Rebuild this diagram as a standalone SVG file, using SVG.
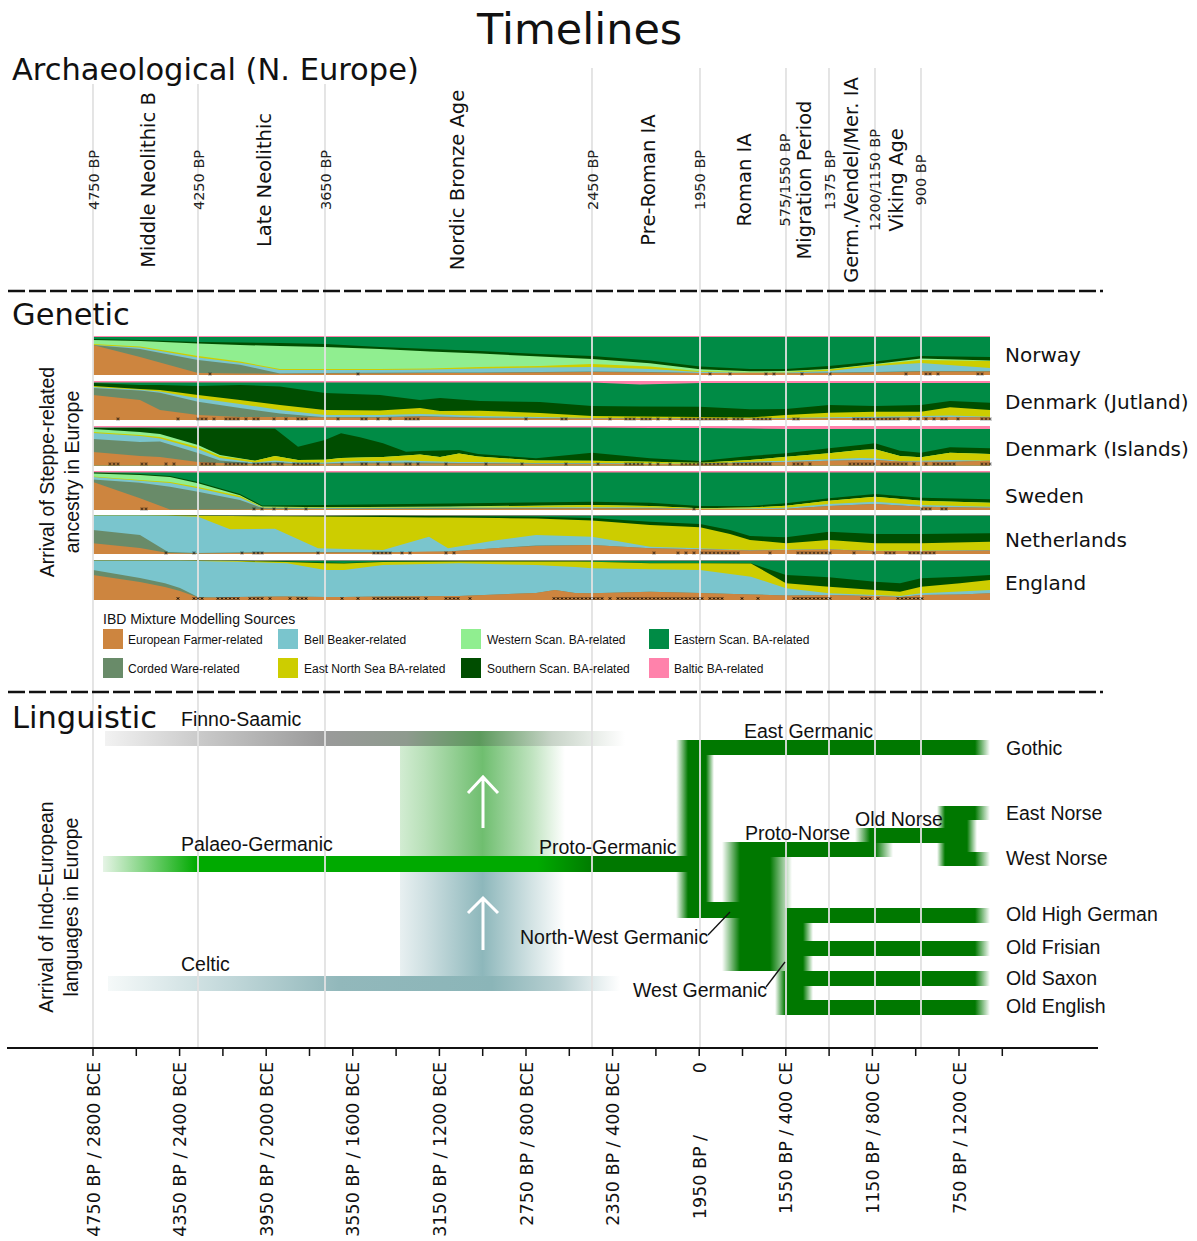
<svg xmlns="http://www.w3.org/2000/svg" width="1197" height="1241" viewBox="0 0 1197 1241">
<defs>
<style>
.P{fill:#FF82AB}.E{fill:#008B45}.S{fill:#004D00}.W{fill:#90EE90}.Y{fill:#CDCD00}.B{fill:#7AC5CD}.C{fill:#698B69}.F{fill:#CD853F}
.grid line{stroke:#e2e2e2;stroke-width:1.8}
.dash{stroke:#111;stroke-width:2.5;stroke-dasharray:17 4}
.dv{font-family:"DejaVu Sans",Verdana,sans-serif;fill:#111}
.ls{font-family:"Liberation Sans",Arial,sans-serif;fill:#111}
.tg{fill:#007800}
.fl{fill:url(#gL)}.fr{fill:url(#gR)}
.sm{font-size:14.5px;fill:#222}.bg{font-size:19.5px}
.lab{font-size:19.5px}
.leg{font-size:12px}
.ax{font-size:17.5px}
</style>
<linearGradient id="gL" x1="0" x2="1" y1="0" y2="0"><stop offset="0" stop-color="#007800" stop-opacity="0"/><stop offset="1" stop-color="#007800"/></linearGradient>
<linearGradient id="gR" x1="0" x2="1" y1="0" y2="0"><stop offset="0" stop-color="#007800"/><stop offset="1" stop-color="#007800" stop-opacity="0"/></linearGradient>
<linearGradient id="gFinno" gradientUnits="userSpaceOnUse" x1="105" x2="625" y1="0" y2="0">
<stop offset="0" stop-color="#f2f2f2"/><stop offset="0.2" stop-color="#c6c6c6"/><stop offset="0.42" stop-color="#9a9a9a"/><stop offset="0.58" stop-color="#8e9a8e"/><stop offset="0.72" stop-color="#5c9a5c"/><stop offset="0.86" stop-color="#c8d4c8"/><stop offset="1" stop-color="#ffffff"/>
</linearGradient>
<linearGradient id="gBandG" gradientUnits="userSpaceOnUse" x1="400" x2="565" y1="0" y2="0">
<stop offset="0" stop-color="#d2ecd2"/><stop offset="0.15" stop-color="#b8e0b8"/><stop offset="0.5" stop-color="#6fbe6f"/><stop offset="0.8" stop-color="#bfe3bf"/><stop offset="1" stop-color="#ffffff"/>
</linearGradient>
<linearGradient id="gBandB" gradientUnits="userSpaceOnUse" x1="400" x2="565" y1="0" y2="0">
<stop offset="0" stop-color="#e8f0f1"/><stop offset="0.15" stop-color="#cfe0e2"/><stop offset="0.5" stop-color="#8db7bb"/><stop offset="0.8" stop-color="#d3e3e4"/><stop offset="1" stop-color="#ffffff"/>
</linearGradient>
<linearGradient id="gCelt" gradientUnits="userSpaceOnUse" x1="108" x2="620" y1="0" y2="0">
<stop offset="0" stop-color="#f5f9f9"/><stop offset="0.25" stop-color="#bfd6d8"/><stop offset="0.45" stop-color="#92b8bb"/><stop offset="0.75" stop-color="#8bb5b8"/><stop offset="0.88" stop-color="#b8d0d2"/><stop offset="1" stop-color="#ffffff"/>
</linearGradient>
<linearGradient id="gPal" gradientUnits="userSpaceOnUse" x1="103" x2="690" y1="0" y2="0">
<stop offset="0" stop-color="#e6f4e6"/><stop offset="0.16" stop-color="#00aa00"/><stop offset="0.74" stop-color="#00aa00"/><stop offset="0.84" stop-color="#007800"/><stop offset="1" stop-color="#007800"/>
</linearGradient>
<pattern id="xp" patternUnits="userSpaceOnUse" x="0" y="0" width="4" height="3"><path d="M0.8 0.3L3.2 2.7M3.2 0.3L0.8 2.7" stroke="#000" stroke-width="1" fill="none"/></pattern>
</defs>
<rect width="1197" height="1241" fill="#fff"/>

<g id="genetic-charts">
<g id="chart-norway">
<rect class="P" x="93" y="336" width="897" height="39"/>
<path class="E" d="M93 337H990V375H93Z"/>
<path class="S" d="M93 339L140 340L198 342L240 342.5L280 343L325 344L380 347L430 349L480 351L540 354L592 356L650 360.5L700 366.5L750 369L786 369L829 366L875 361.5L921 356L990 357V375H93Z"/>
<path class="W" d="M93 340L140 341L198 343.5L240 345L280 346L325 347L380 349L430 351.5L480 353.5L540 356.5L592 359L650 363.3L700 369.3L750 371.3L786 371L829 369L875 364L921 358.5L990 360.5V375H93Z"/>
<path class="Y" d="M93 344L140 346.5L198 356L240 361.5L280 369L325 369L380 369L430 368.5L480 367L540 366L592 364L650 366.5L700 371.3L750 372L786 372L829 369.5L875 364.5L921 360L990 361V375H93Z"/>
<path class="B" d="M93 345L140 347.5L198 357.5L240 362.7L280 370L325 370L380 370L430 369.5L480 368.5L540 367.5L592 367L650 369L700 372L750 372.5L786 372.5L829 371L875 366L921 363L990 368V375H93Z"/>
<path class="C" d="M93 345L140 349L198 360L240 364.7L280 373.5L325 373L380 372.7L430 372.5L480 372.5L540 372L592 371.5L650 372L700 373L750 373L786 373L829 372.5L875 372L921 371L990 371V375H93Z"/>
<path class="F" d="M93 345L140 357L198 373L240 373.5L280 373.8L325 373.5L380 373.5L430 373L480 373L540 372.5L592 372L650 372.5L700 373L750 373L786 373.3L829 373L875 372.5L921 371.5L990 371.5V375H93Z"/>
</g>
<g id="chart-jutland">
<rect class="P" x="93" y="381" width="897" height="39"/>
<path class="E" d="M93 382.5L592 382.5L640 384.5L700 383L990 383V420H93Z"/>
<path class="S" d="M93 383L140 385L160 385L198 386L240 385L280 386.5L325 393L380 395L420 400L440 398L480 401L540 402L592 406L640 406.5L700 406.7L750 409.3L786 409L829 405L875 406L921 405L950 401L990 402.7V420H93Z"/>
<path class="Y" d="M93 386L140 389L160 390L198 395L240 400L280 405L325 410L380 410.5L420 408L440 411L480 410.7L540 413L592 416L640 416.5L700 417L750 417.5L786 415L829 412.7L875 411.7L921 411.7L950 407.3L990 410V420H93Z"/>
<path class="B" d="M93 387L140 389.7L160 391.5L198 398.3L240 404L280 410L325 415L380 415L420 414L440 414.5L480 416L540 417L592 418L640 418L700 418.5L750 418.5L786 418L829 417.3L875 416.7L921 416L950 415.5L990 416.7V420H93Z"/>
<path class="C" d="M93 388L140 390.5L160 392.7L198 401.7L240 408L280 413.5L325 417.3L380 417L420 416L440 416.5L480 417.5L540 418L592 418.5L640 418.5L700 418.7L750 418.7L786 418.5L829 418.3L875 418L921 417.3L950 417L990 417.3V420H93Z"/>
<path class="F" d="M93 395L140 400L160 410L198 415L240 417L280 417L325 417.5L380 417.5L420 416.5L440 417L480 418L540 418.5L592 418.5L640 418.5L700 418.7L750 418.7L786 418.7L829 418.3L875 418L921 417.3L950 417L990 417.3V420H93Z"/>
</g>
<g id="chart-islands">
<rect class="P" x="93" y="426" width="897" height="39.5"/>
<path class="E" d="M93 427.5L592 427.5L650 428L700 428L750 428.5L786 429L990 429V465.5H93Z"/>
<path class="S" d="M93 428L140 428L160 428.5L198 428.5L220 428.5L255 428.5L275 428.7L298 446.7L325 440L341 433.3L360 437.3L383 443.3L406 451.7L420 451L440 450.5L459 450L478 454L536 458.3L592 452.7L650 458.3L700 461L750 456L786 453.3L829 448.3L860 445L875 443.3L900 450.7L921 452.7L950 447.3L990 448.3V465.5H93Z"/>
<path class="W" d="M93 429L140 432L160 434L198 445L220 455L255 460.7L275 456L298 460L325 459.7L341 458L360 457.5L383 457L406 455.5L420 454.5L440 457L459 453.5L478 456.5L536 460.5L592 460.7L650 461.7L700 462.7L750 460L786 456.7L829 453.3L860 450L875 449.3L900 456L921 457.3L950 452.7L990 454V465.5H93Z"/>
<path class="Y" d="M93 432L140 435L160 437L198 447L220 456L255 460.7L275 456L298 460L325 459.7L341 458L360 457.5L383 457L406 455.5L420 454.5L440 457L459 453.5L478 456.5L536 460.5L592 460.7L650 461.7L700 462.7L750 460L786 456.7L829 453.3L860 450L875 449.3L900 456L921 457.3L950 452.7L990 454V465.5H93Z"/>
<path class="B" d="M93 433L140 436L160 438.5L198 449L220 458L255 462.5L275 460.5L298 462.5L325 462.5L341 461.5L360 461L383 461L406 460.5L420 461L440 461.5L459 462L478 462L536 463L592 463L650 463.5L700 463.7L750 461.7L786 460.7L829 459.3L860 458L875 458.3L900 461L921 460.7L950 460L990 460.7V465.5H93Z"/>
<path class="C" d="M93 439L140 442L160 441.5L198 453L220 460.5L255 463.5L275 462L298 463.5L325 463.5L341 463L360 462.5L383 462.5L406 462.5L420 462.5L440 462.8L459 463L478 463L536 463.5L592 463.5L650 464L700 464L750 462.5L786 462L829 460.7L860 460L875 460L900 461.5L921 461.7L950 461.7L990 460.7V465.5H93Z"/>
<path class="F" d="M93 452L140 456L160 457L198 462L220 463L255 464L275 463.5L298 464L325 464L341 463.5L360 463.5L383 463.5L406 463.5L420 463.5L440 463.5L459 463.5L478 463.5L536 464L592 464L650 464L700 464L750 463L786 462L829 460.7L860 460L875 460L900 461.5L921 461.7L950 461.7L990 460.7V465.5H93Z"/>
</g>
<g id="chart-sweden">
<rect class="P" x="93" y="471" width="897" height="39"/>
<path class="E" d="M93 472.5H990V510H93Z"/>
<path class="S" d="M93 472.5L140 474L170 476L198 482L240 494L262 505.5L325 505L450 503.5L592 501.7L650 502.7L700 506L750 506L786 503.3L829 498.3L875 494L921 497.7L990 499.3V510H93Z"/>
<path class="W" d="M93 473.5L140 475L170 477L198 483.3L240 495.3L262 506.5L325 507.3L450 506.5L592 505L650 506L700 508.3L750 507.5L786 505.7L829 500.7L875 496.7L921 500.7L990 502.7V510H93Z"/>
<path class="Y" d="M93 476.5L140 480L170 482L198 487L240 496L262 507L325 507.5L450 507L592 505L650 506L700 508.3L750 507.5L786 505.7L829 500.7L875 496.7L921 500.7L990 502.7V510H93Z"/>
<path class="B" d="M93 477L140 480.7L170 483L198 488.3L240 497.5L262 507.5L325 508L450 507.5L592 507.3L650 507.5L700 508.7L750 508.5L786 507.7L829 504L875 501.7L921 505L990 506.7V510H93Z"/>
<path class="C" d="M93 479.5L140 482.7L170 486.7L198 491.7L240 500L262 508L325 508.5L450 508L592 508L650 508L700 509L750 509L786 508.7L829 506L875 504L921 506.7L990 507.7V510H93Z"/>
<path class="F" d="M93 482L140 498.3L170 509.5L198 509.5L240 509.5L262 509L325 509L450 509L592 508.5L650 508.5L700 509L750 509L786 508.7L829 506L875 504L921 506.7L990 507.7V510H93Z"/>
</g>
<g id="chart-netherlands">
<rect class="P" x="93" y="515" width="897" height="39"/>
<path class="E" d="M93 515.5H990V554H93Z"/>
<path class="S" d="M93 515.5L198 515.5L230 515.7L275 516L318 516L383 515.7L429 516L448 516L498 516.5L536 516.7L592 518L650 521.7L700 524L730 530L750 536L786 537.3L829 531.7L875 534L921 534L990 533.3V554H93Z"/>
<path class="Y" d="M93 515.5L168 515.5L198 515.7L230 516L275 516.3L318 516.5L383 517L429 517.5L448 517.5L498 518L536 518.5L592 520.5L650 525L700 527.3L730 534L750 540L786 543.3L829 540L875 543.3L921 543.3L990 541.7V554H93Z"/>
<path class="B" d="M93 515.5L140 515.5L168 515.7L198 516.7L230 529.3L275 528.7L318 548.3L383 550L429 536.7L448 548.3L498 540L536 535L592 536.7L650 546.7L700 548.3L730 549.5L750 550L786 549.5L829 549.3L875 550.7L921 550.7L990 550V554H93Z"/>
<path class="C" d="M93 530L140 535L168 552L198 553L230 552.5L275 552L318 552L383 552L429 552L448 551.5L498 548L536 545.5L592 545L650 548.3L700 549.3L730 550L750 550.5L786 550L829 549.5L875 551L921 551L990 550.5V554H93Z"/>
<path class="F" d="M93 543.3L140 548L168 553L198 553.5L230 553L275 552.5L318 552.5L383 552.5L429 551.5L448 551.5L498 548L536 546L592 545L650 548.3L700 549.3L730 550L750 550.5L786 550L829 549.5L875 551L921 551L990 550.5V554H93Z"/>
</g>
<g id="chart-england">
<rect class="P" x="93" y="560" width="897" height="40"/>
<path class="E" d="M93 560.5H990V600H93Z"/>
<path class="S" d="M93 560.7L237 560.7L287 561.5L325 562.5L344 563L383 561.5L459 561L575 561L592 561.7L650 563L700 563L751 563.3L786 575L829 577.3L875 581.7L900 583.3L921 578.3L960 576.7L990 575V600H93Z"/>
<path class="Y" d="M93 560.7L220 560.7L237 561L287 562L325 563.3L344 563.5L383 562L459 561.5L575 561.5L592 561.7L650 563.3L700 563.3L751 563.5L786 583.3L829 586.7L875 590L900 591.7L921 586.7L960 583.3L990 580V600H93Z"/>
<path class="B" d="M93 560.7L180 560.7L198 561L220 561.5L237 561.7L287 563.3L325 570L344 570L383 565L459 563.3L536 565L555 566L575 567L592 568.3L650 569.3L700 570L751 576.7L786 588.3L829 593.3L875 595L900 596L921 593.3L960 591.5L990 590V600H93Z"/>
<path class="C" d="M93 570L140 578L165 583.3L180 588L198 597L220 597.5L237 597L287 596.5L325 597L344 597L383 596.5L459 596L536 593L555 590L575 593L592 593.3L650 591.7L700 593L751 594.5L786 595.5L829 595L875 596L900 597L921 595L960 594.5L990 593.3V600H93Z"/>
<path class="F" d="M93 575L140 582L165 587L180 591L198 597.5L220 597.5L237 597L287 596.5L325 597L344 597L383 596.5L459 596L536 593L555 590L575 593L592 593.3L650 591.7L700 593L751 594.5L786 595.5L829 595L875 596L900 597L921 595L960 594.5L990 593.3V600H93Z"/>
</g>
</g>

<g id="linguistic-bars">
<rect x="105" y="731" width="520" height="15" fill="url(#gFinno)"/>
<rect x="400" y="746" width="165" height="110" fill="url(#gBandG)"/>
<rect x="400" y="872" width="165" height="104" fill="url(#gBandB)"/>
<rect x="103" y="856" width="587" height="16" fill="url(#gPal)"/>
<rect x="108" y="976" width="512" height="15" fill="url(#gCelt)"/>
<path d="M483 828V778M468 793L483 777L498 793M483 950V900M468 913L483 898L498 913" fill="none" stroke="#fff" stroke-width="3"/>
</g>

<g id="germanic-tree" class="tg">
<rect x="688" y="740" width="13" height="178"/>
<rect class="fl" x="676" y="740" width="12" height="178"/>
<rect x="700" y="740" width="275" height="15"/>
<rect class="fr" x="975" y="740" width="15" height="15"/>
<rect x="700" y="755" width="6" height="147"/>
<rect class="fr" x="706" y="755" width="8" height="147"/>
<rect x="700" y="902" width="40" height="16"/>
<rect x="740" y="842" width="30" height="129"/>
<rect class="fl" x="722" y="842" width="18" height="129"/>
<rect class="fr" x="770" y="857" width="22" height="114"/>
<rect x="770" y="842" width="105" height="15"/>
<rect class="fr" x="875" y="842" width="18" height="15"/>
<rect x="870" y="828" width="75" height="15"/>
<rect class="fl" x="855" y="828" width="15" height="15"/>
<rect x="945" y="806" width="30" height="14"/>
<rect x="945" y="820" width="22" height="32"/>
<rect x="945" y="852" width="30" height="14"/>
<rect class="fl" x="937" y="806" width="8" height="60"/>
<rect class="fr" x="967" y="820" width="10" height="32"/>
<rect class="fr" x="975" y="806" width="15" height="14"/>
<rect class="fr" x="975" y="852" width="15" height="14"/>
<rect x="785" y="908" width="18" height="107"/>
<rect class="fl" x="775" y="971" width="10" height="44"/>
<rect class="fr" x="803" y="923" width="10" height="77"/>
<rect x="803" y="908" width="172" height="15"/><rect class="fr" x="975" y="908" width="15" height="15"/>
<rect x="803" y="941" width="172" height="15"/><rect class="fr" x="975" y="941" width="15" height="15"/>
<rect x="803" y="971" width="172" height="15"/><rect class="fr" x="975" y="971" width="15" height="15"/>
<rect x="803" y="1000" width="172" height="15"/><rect class="fr" x="975" y="1000" width="15" height="15"/>
</g>

<g id="grid" class="grid">
<line x1="93" y1="84" x2="93" y2="1048"/>
<line x1="198" y1="84" x2="198" y2="1048"/>
<line x1="325" y1="84" x2="325" y2="1048"/>
<line x1="592" y1="68" x2="592" y2="1048"/>
<line x1="700" y1="68" x2="700" y2="1048"/>
<line x1="786" y1="68" x2="786" y2="1048"/>
<line x1="829" y1="68" x2="829" y2="1048"/>
<line x1="875" y1="68" x2="875" y2="1048"/>
<line x1="921" y1="68" x2="921" y2="1048"/>
</g>

<g id="sample-markers" fill="url(#xp)">
<g transform="translate(0,372.5)">
<rect x="208" width="4" height="3"/><rect x="356" width="4" height="3"/><rect x="708" width="4" height="3"/><rect x="728" width="4" height="3"/><rect x="764" width="4" height="3"/><rect x="772" width="4" height="3"/><rect x="800" width="4" height="3"/><rect x="828" width="4" height="3"/><rect x="904" width="4" height="3"/><rect x="924" width="8" height="3"/><rect x="936" width="4" height="3"/><rect x="976" width="8" height="3"/>
</g>
<g transform="translate(0,417.5)">
<rect x="116" width="4" height="3"/><rect x="176" width="4" height="3"/><rect x="196" width="12" height="3"/><rect x="212" width="4" height="3"/><rect x="224" width="16" height="3"/><rect x="244" width="4" height="3"/><rect x="252" width="8" height="3"/><rect x="272" width="4" height="3"/><rect x="284" width="4" height="3"/><rect x="296" width="12" height="3"/><rect x="336" width="4" height="3"/><rect x="360" width="8" height="3"/><rect x="376" width="4" height="3"/><rect x="388" width="4" height="3"/><rect x="404" width="16" height="3"/><rect x="524" width="4" height="3"/><rect x="560" width="8" height="3"/><rect x="608" width="4" height="3"/><rect x="624" width="12" height="3"/><rect x="640" width="12" height="3"/><rect x="656" width="4" height="3"/><rect x="668" width="4" height="3"/><rect x="680" width="48" height="3"/><rect x="732" width="12" height="3"/><rect x="752" width="20" height="3"/><rect x="792" width="8" height="3"/><rect x="852" width="24" height="3"/><rect x="876" width="24" height="3"/><rect x="908" width="4" height="3"/><rect x="916" width="4" height="3"/><rect x="924" width="4" height="3"/><rect x="932" width="4" height="3"/><rect x="940" width="8" height="3"/><rect x="956" width="4" height="3"/><rect x="980" width="12" height="3"/>
</g>
<g transform="translate(0,462.5)">
<rect x="108" width="12" height="3"/><rect x="140" width="8" height="3"/><rect x="164" width="4" height="3"/><rect x="172" width="4" height="3"/><rect x="200" width="16" height="3"/><rect x="224" width="20" height="3"/><rect x="244" width="4" height="3"/><rect x="252" width="16" height="3"/><rect x="268" width="4" height="3"/><rect x="276" width="8" height="3"/><rect x="292" width="28" height="3"/><rect x="340" width="4" height="3"/><rect x="360" width="8" height="3"/><rect x="376" width="4" height="3"/><rect x="388" width="4" height="3"/><rect x="404" width="8" height="3"/><rect x="416" width="4" height="3"/><rect x="444" width="4" height="3"/><rect x="484" width="4" height="3"/><rect x="520" width="4" height="3"/><rect x="564" width="4" height="3"/><rect x="596" width="4" height="3"/><rect x="624" width="16" height="3"/><rect x="640" width="4" height="3"/><rect x="648" width="4" height="3"/><rect x="656" width="4" height="3"/><rect x="668" width="4" height="3"/><rect x="680" width="48" height="3"/><rect x="732" width="40" height="3"/><rect x="792" width="12" height="3"/><rect x="808" width="4" height="3"/><rect x="848" width="28" height="3"/><rect x="880" width="28" height="3"/><rect x="912" width="4" height="3"/><rect x="924" width="4" height="3"/><rect x="932" width="24" height="3"/><rect x="980" width="12" height="3"/>
</g>
<g transform="translate(0,507.5)">
<rect x="140" width="8" height="3"/><rect x="252" width="4" height="3"/><rect x="260" width="4" height="3"/><rect x="272" width="4" height="3"/><rect x="284" width="4" height="3"/><rect x="304" width="4" height="3"/><rect x="692" width="4" height="3"/><rect x="920" width="12" height="3"/><rect x="940" width="8" height="3"/>
</g>
<g transform="translate(0,551.5)">
<rect x="164" width="4" height="3"/><rect x="192" width="4" height="3"/><rect x="240" width="4" height="3"/><rect x="252" width="4" height="3"/><rect x="256" width="8" height="3"/><rect x="316" width="4" height="3"/><rect x="372" width="20" height="3"/><rect x="400" width="4" height="3"/><rect x="408" width="4" height="3"/><rect x="444" width="4" height="3"/><rect x="452" width="4" height="3"/><rect x="652" width="4" height="3"/><rect x="676" width="4" height="3"/><rect x="684" width="4" height="3"/><rect x="692" width="4" height="3"/><rect x="700" width="40" height="3"/><rect x="768" width="4" height="3"/><rect x="796" width="36" height="3"/><rect x="852" width="4" height="3"/><rect x="872" width="4" height="3"/><rect x="884" width="12" height="3"/><rect x="908" width="28" height="3"/>
</g>
<g transform="translate(0,597)">
<rect x="176" width="4" height="3"/><rect x="192" width="12" height="3"/><rect x="216" width="24" height="3"/><rect x="248" width="16" height="3"/><rect x="268" width="4" height="3"/><rect x="288" width="4" height="3"/><rect x="296" width="12" height="3"/><rect x="340" width="4" height="3"/><rect x="356" width="4" height="3"/><rect x="372" width="20" height="3"/><rect x="392" width="28" height="3"/><rect x="424" width="4" height="3"/><rect x="444" width="12" height="3"/><rect x="456" width="4" height="3"/><rect x="468" width="4" height="3"/><rect x="552" width="52" height="3"/><rect x="608" width="4" height="3"/><rect x="616" width="4" height="3"/><rect x="620" width="44" height="3"/><rect x="664" width="28" height="3"/><rect x="692" width="12" height="3"/><rect x="708" width="16" height="3"/><rect x="740" width="4" height="3"/><rect x="756" width="4" height="3"/><rect x="792" width="40" height="3"/><rect x="860" width="12" height="3"/><rect x="876" width="4" height="3"/><rect x="896" width="12" height="3"/><rect x="908" width="12" height="3"/><rect x="920" width="4" height="3"/>
</g>
</g>

<g id="separators">
<line class="dash" x1="8" y1="291" x2="1103" y2="291"/>
<line class="dash" x1="8" y1="692" x2="1103" y2="692"/>
</g>

<g id="time-axis">
<line x1="7" y1="1048" x2="1098" y2="1048" stroke="#111" stroke-width="2"/>
<path d="M93 1048v8M136.3 1048v8M179.6 1048v8M222.9 1048v8M266.2 1048v8M309.5 1048v8M352.8 1048v8M396.1 1048v8M439.4 1048v8M482.7 1048v8M526 1048v8M569.3 1048v8M612.6 1048v8M655.9 1048v8M699.2 1048v8M742.5 1048v8M785.8 1048v8M829.1 1048v8M872.4 1048v8M915.7 1048v8M959 1048v8M1002.3 1048v8" stroke="#111" stroke-width="1.5"/>
<g class="dv ax" text-anchor="end">
<text transform="translate(99.5,1062) rotate(-90)">4750 BP / 2800 BCE</text>
<text transform="translate(186,1062) rotate(-90)">4350 BP / 2400 BCE</text>
<text transform="translate(272.5,1062) rotate(-90)">3950 BP / 2000 BCE</text>
<text transform="translate(359,1062) rotate(-90)">3550 BP / 1600 BCE</text>
<text transform="translate(446,1062) rotate(-90)">3150 BP / 1200 BCE</text>
<text transform="translate(532.5,1062) rotate(-90)">2750 BP / 800 BCE</text>
<text transform="translate(619,1062) rotate(-90)">2350 BP / 400 BCE</text>
<text transform="translate(705.5,1062) rotate(-90)">0</text>
<text transform="translate(705.5,1135) rotate(-90)">1950 BP /</text>
<text transform="translate(792,1062) rotate(-90)">1550 BP / 400 CE</text>
<text transform="translate(879,1062) rotate(-90)">1150 BP / 800 CE</text>
<text transform="translate(965.5,1062) rotate(-90)">750 BP / 1200 CE</text>
</g>
</g>

<g id="titles" class="dv">
<text x="477" y="44" font-size="43">Timelines</text>
<text x="12" y="80" font-size="30.5">Archaeological (N. Europe)</text>
<text x="12" y="325" font-size="30.5">Genetic</text>
<text x="12" y="728" font-size="30.5">Linguistic</text>
</g>

<g id="archaeological-periods" class="dv" text-anchor="middle">
<text class="sm" transform="translate(98.5,180) rotate(-90)">4750 BP</text>
<text class="sm" transform="translate(203.5,180) rotate(-90)">4250 BP</text>
<text class="sm" transform="translate(330.5,180) rotate(-90)">3650 BP</text>
<text class="sm" transform="translate(597.5,180) rotate(-90)">2450 BP</text>
<text class="sm" transform="translate(705,180) rotate(-90)">1950 BP</text>
<text class="sm" transform="translate(790,180) rotate(-90)">575/1550 BP</text>
<text class="sm" transform="translate(834.5,180) rotate(-90)">1375 BP</text>
<text class="sm" transform="translate(880,180) rotate(-90)">1200/1150 BP</text>
<text class="sm" transform="translate(926,180) rotate(-90)">900 BP</text>
<text class="bg" transform="translate(155,180) rotate(-90)">Middle Neolithic B</text>
<text class="bg" transform="translate(271,180) rotate(-90)">Late Neolithic</text>
<text class="bg" transform="translate(464,180) rotate(-90)">Nordic Bronze Age</text>
<text class="bg" transform="translate(654.5,180) rotate(-90)">Pre-Roman IA</text>
<text class="bg" transform="translate(751,180) rotate(-90)">Roman IA</text>
<text class="bg" transform="translate(811,180) rotate(-90)">Migration Period</text>
<text class="bg" transform="translate(858,180) rotate(-90)">Germ./Vendel/Mer. IA</text>
<text class="bg" transform="translate(903,180) rotate(-90)">Viking Age</text>
</g>

<g id="country-labels" class="dv" font-size="20">
<text x="1005" y="362">Norway</text>
<text x="1005" y="409">Denmark (Jutland)</text>
<text x="1005" y="455.5">Denmark (Islands)</text>
<text x="1005" y="503">Sweden</text>
<text x="1005" y="546.5">Netherlands</text>
<text x="1005" y="590">England</text>
</g>

<g id="axis-titles" class="ls lab" text-anchor="middle">
<text transform="translate(54,472) rotate(-90)">Arrival of Steppe-related</text>
<text transform="translate(79,472) rotate(-90)">ancestry in Europe</text>
<text transform="translate(53,907) rotate(-90)">Arrival of Indo-European</text>
<text transform="translate(78,907) rotate(-90)">languages in Europe</text>
</g>

<g id="legend">
<text class="ls" x="103" y="623.5" font-size="14">IBD Mixture Modelling Sources</text>
<rect class="F" x="103" y="629" width="20" height="20"/>
<rect class="B" x="278" y="629" width="20" height="20"/>
<rect class="W" x="461" y="629" width="20" height="20"/>
<rect class="E" x="649" y="629" width="20" height="20"/>
<rect class="C" x="103" y="658" width="20" height="20"/>
<rect class="Y" x="278" y="658" width="20" height="20"/>
<rect class="S" x="461" y="658" width="20" height="20"/>
<rect class="P" x="649" y="658" width="20" height="20"/>
<g class="ls leg">
<text x="128" y="644">European Farmer-related</text>
<text x="304" y="644">Bell Beaker-related</text>
<text x="487" y="644">Western Scan. BA-related</text>
<text x="674" y="644">Eastern Scan. BA-related</text>
<text x="128" y="672.5">Corded Ware-related</text>
<text x="304" y="672.5">East North Sea BA-related</text>
<text x="487" y="672.5">Southern Scan. BA-related</text>
<text x="674" y="672.5">Baltic BA-related</text>
</g>
</g>

<g id="language-labels" class="ls lab">
<text x="181" y="726">Finno-Saamic</text>
<text x="181" y="851">Palaeo-Germanic</text>
<text x="539" y="854">Proto-Germanic</text>
<text x="181" y="971">Celtic</text>
<text x="744" y="737.5">East Germanic</text>
<text x="1006" y="755">Gothic</text>
<text x="1006" y="820">East Norse</text>
<text x="1006" y="865">West Norse</text>
<text x="855" y="825.5">Old Norse</text>
<text x="745" y="840">Proto-Norse</text>
<text x="1006" y="921">Old High German</text>
<text x="1006" y="954">Old Frisian</text>
<text x="1006" y="984.5">Old Saxon</text>
<text x="1006" y="1013">Old English</text>
<text x="520" y="944">North-West Germanic</text>
<text x="633" y="996.5">West Germanic</text>
</g>

<g id="label-pointers" stroke="#111" stroke-width="1.3">
<line x1="708" y1="935" x2="730" y2="912"/>
<line x1="766" y1="987" x2="785" y2="962"/>
</g>
</svg>
